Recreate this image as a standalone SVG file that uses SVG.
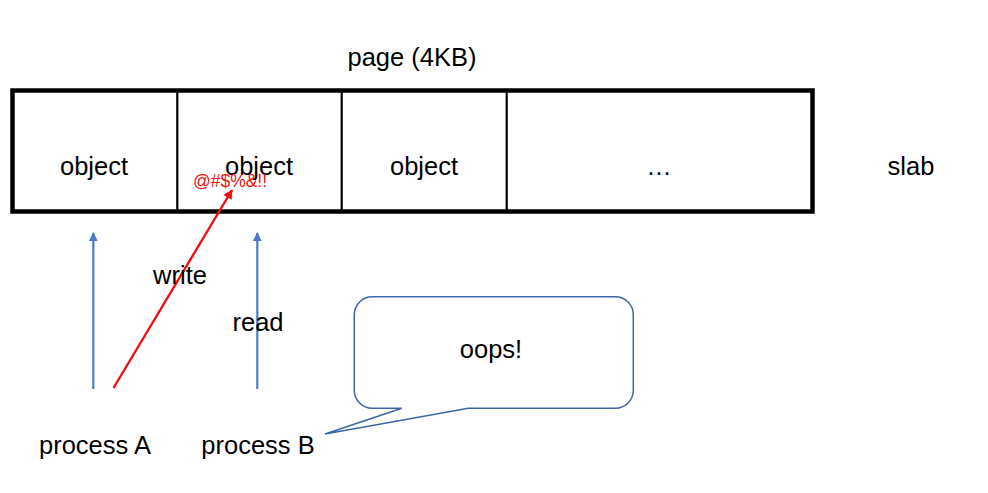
<svg xmlns="http://www.w3.org/2000/svg" width="988" height="493" viewBox="0 0 988 493">
<style>
.t{font-family:"Liberation Sans",Arial,sans-serif;font-size:25.5px;fill:#000;text-anchor:middle}
.cell{fill:none;stroke:#000;stroke-width:2.2}
</style>
<defs>
<marker id="ab" viewBox="0 0 10 10" refX="9" refY="5" markerWidth="4" markerHeight="4" orient="auto" markerUnits="strokeWidth"><path d="M0,0 L10,5 L0,10 z" fill="#4a7cc9"/></marker>
<marker id="ar" viewBox="0 0 10 10" refX="9" refY="5" markerWidth="4" markerHeight="4" orient="auto" markerUnits="strokeWidth"><path d="M0,0 L10,5 L0,10 z" fill="#f01010"/></marker>
</defs>
<rect width="988" height="493" fill="#fff"/>
<text class="t" x="412" y="66">page (4KB)</text>
<g id="page">
<rect x="12.5" y="90.5" width="800" height="121" fill="#fff" stroke="#000" stroke-width="4.5"/>
<line class="cell" x1="177.3" y1="90.5" x2="177.3" y2="211.5"/>
<line class="cell" x1="341.7" y1="90.5" x2="341.7" y2="211.5"/>
<line class="cell" x1="506.7" y1="90.5" x2="506.7" y2="211.5"/>
</g>
<g id="obj1"><text class="t" x="94" y="175">object</text></g>
<g id="obj2"><text class="t" x="259" y="175">object</text></g>
<g id="obj3"><text class="t" x="424" y="175">object</text></g>
<g id="obj4"><text class="t" x="659" y="175">…</text></g>
<g id="slab"><text class="t" x="911" y="175">slab</text></g>
<g id="procA"><text class="t" x="95" y="454">process A</text></g>
<g id="procB"><text class="t" x="258" y="454">process B</text></g>
<g id="connectors">
<line x1="93.3" y1="389" x2="93.3" y2="233" stroke="#4a7cc9" stroke-width="2.2" marker-end="url(#ab)"/>
<line x1="257.3" y1="389" x2="257.3" y2="233" stroke="#4a7cc9" stroke-width="2.2" marker-end="url(#ab)"/>
<line x1="113.5" y1="388" x2="232" y2="190" stroke="#f01010" stroke-width="2.4" marker-end="url(#ar)"/>
</g>
<text x="230" y="187" font-family="'Liberation Sans',Arial,sans-serif" font-size="17.5" fill="#f01010" text-anchor="middle">@#$%&amp;!!</text>
<text class="t" x="180" y="284">write</text>
<text class="t" x="258" y="331">read</text>
<g id="bubble">
<path d="M372.3,296.7 H615.3 A18,18 0 0 1 633.3,314.7 V390.3 A18,18 0 0 1 615.3,408.3 H468.3 L325,434 L401.7,408.3 H372.3 A18,18 0 0 1 354.3,390.3 V314.7 A18,18 0 0 1 372.3,296.7 Z" fill="#fff" stroke="#3d66a8" stroke-width="1.5"/>
<text class="t" x="491" y="358">oops!</text>
</g>
</svg>
